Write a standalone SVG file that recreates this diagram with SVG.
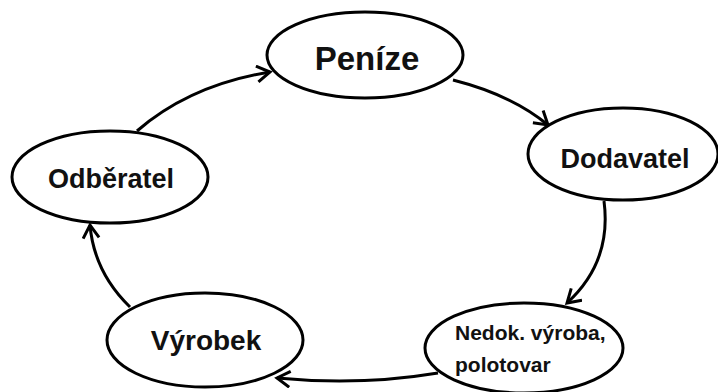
<svg xmlns="http://www.w3.org/2000/svg" width="718" height="392" viewBox="0 0 718 392">
<style>
.node ellipse{fill:#fff;stroke:#000;stroke-width:3}
.node text{font-family:"Liberation Sans",Arial,sans-serif;font-weight:bold;fill:#111}
#connectors path{fill:none;stroke:#000;stroke-width:3}
</style>
<defs>
<marker id="arr" markerUnits="userSpaceOnUse" markerWidth="22" markerHeight="22" refX="15" refY="9" orient="auto">
<path d="M2,1 L15,9 L2,17" fill="none" stroke="#000" stroke-width="3"/>
</marker>
</defs>
<rect width="718" height="392" fill="#fff"/>
<g id="connectors">
<path d="M137,131 Q190,85 270,72" marker-end="url(#arr)"/>
<path d="M453,80 Q512,95 548,125" marker-end="url(#arr)"/>
<path d="M604,201 Q612,262 567,303" marker-end="url(#arr)"/>
<path d="M438,373 Q360,386 277,378" marker-end="url(#arr)"/>
<path d="M130,307 Q94,272 90,225" marker-end="url(#arr)"/>
</g>
<g id="peníze" class="node">
<ellipse cx="365" cy="55" rx="98" ry="43"/>
<text x="367" y="70" font-size="33" text-anchor="middle">Peníze</text>
</g>
<g id="dodavatel" class="node">
<ellipse cx="623" cy="154" rx="95" ry="46"/>
<text x="625" y="168" font-size="27" text-anchor="middle">Dodavatel</text>
</g>
<g id="nedok" class="node">
<ellipse cx="524" cy="348" rx="99" ry="45"/>
<text x="455" y="340" font-size="21">Nedok. výroba,</text>
<text x="455" y="372" font-size="21">polotovar</text>
</g>
<g id="vyrobek" class="node">
<ellipse cx="205" cy="340" rx="98" ry="47"/>
<text x="206" y="350" font-size="28" text-anchor="middle">Výrobek</text>
</g>
<g id="odberatel" class="node">
<ellipse cx="110" cy="177" rx="98" ry="46"/>
<text x="111" y="188" font-size="27" text-anchor="middle">Odběratel</text>
</g>
</svg>
